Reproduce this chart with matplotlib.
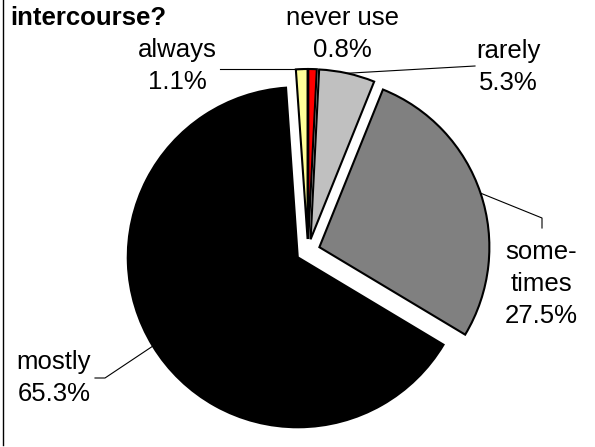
import numpy as np
import matplotlib
matplotlib.use("Agg")
import matplotlib.pyplot as plt
from matplotlib.lines import Line2D

plt.rcParams['font.family'] = ['Liberation Sans', 'DejaVu Sans']

labels = ['never use', 'rarely', 'some-\ntimes', 'mostly', 'always']
shares = [0.8, 5.3, 27.5, 65.3, 1.1]
colors = ['#FF0000', '#C0C0C0', '#808080', '#000000', '#FFFF99']

W, H = 595, 447
fig = plt.figure(figsize=(W / 100, H / 100), dpi=100)
ax = fig.add_axes([0, 0, 1, 1])


def px(x, y):
    # picture pixels (y down) -> data coords (y up)
    return x, H - y


R = 170
wedges, _ = ax.pie(shares, colors=colors, startangle=90, counterclock=False,
                   center=px(308, 251), radius=R, explode=[12] * 5,
                   wedgeprops=dict(edgecolor='black', linewidth=1.5),
                   frame=True)
ax.set_xlim(0, W)
ax.set_ylim(0, H)
ax.set_aspect('equal')
ax.axis('off')


def anchor(w):
    t = np.deg2rad((w.theta1 + w.theta2) / 2)
    return w.center[0] + w.r * np.cos(t), w.center[1] + w.r * np.sin(t)


fs = 18.5
ls = 1.42
txt = [f'{l}\n{v:.1f}%' for l, v in zip(labels, shares)]

# never use: label straight above, no leader
ax.text(*px(342, 34), txt[0], ha='center', va='center', fontsize=fs,
        linespacing=ls)

# rarely
a = anchor(wedges[1])
ax.text(*px(508, 67), txt[1], ha='center', va='center', fontsize=fs,
        linespacing=ls)
ax.plot([a[0], 475], [a[1], H - 66], color='black', lw=0.8)

# sometimes
a = anchor(wedges[2])
ax.text(*px(541, 284), txt[2], ha='center', va='center', fontsize=fs,
        linespacing=ls)
ax.plot([a[0], 542, 542], [a[1], H - 218, H - 228], color='black', lw=0.8)

# mostly
a = anchor(wedges[3])
ax.text(*px(54, 378), txt[3], ha='center', va='center', fontsize=fs,
        linespacing=ls)
ax.plot([a[0], 105, 95], [a[1], H - 378, H - 378], color='black', lw=0.8)

# always
a = anchor(wedges[4])
ax.text(*px(177, 66), txt[4], ha='center', va='center', fontsize=fs,
        linespacing=ls)
ax.plot([a[0], 220], [a[1], a[1]], color='black', lw=0.8)

ax.text(*px(10, 18), 'intercourse?', ha='left', va='center', fontsize=fs,
        fontweight='bold')

fig.add_artist(Line2D([2.5 / W, 2.5 / W], [2 / H, 1], color='black', lw=1,
                      transform=fig.transFigure))

fig.savefig('out.png', dpi=100)
